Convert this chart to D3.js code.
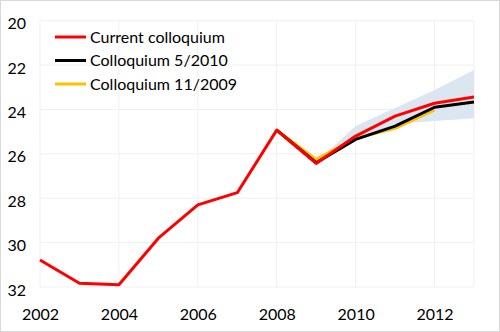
<!DOCTYPE html>
<html>
<head>
<meta charset="utf-8">
<script src="https://cdn.jsdelivr.net/npm/d3@7"></script>
<style>
  body { margin: 0; background: #fff; }
  svg text { font-family: Lato, "Open Sans", sans-serif; fill: #000; }
</style>
</head>
<body>
<svg id="chart" width="500" height="332"></svg>
<script>
// years on the x axis
var years = [2002, 2003, 2004, 2005, 2006, 2007, 2008, 2009, 2010, 2011, 2012, 2013];
var current = [30.78, 31.83, 31.9, 29.8, 28.3, 27.75, 24.93, 26.43, 25.2, 24.3, 23.72, 23.44];
// older forecasts, only the part that sticks out from under the red line
var may2010Years = [2008, 2009, 2010, 2011, 2012, 2013];
var may2010 = [24.93, 26.4, 25.35, 24.75, 23.9, 23.66];
var nov2009Years = [2008, 2009, 2010, 2011, 2012];
var nov2009 = [24.93, 26.25, 25.3, 24.85, 24.02];
// uncertainty band
var bandYears = [2009, 2010, 2011, 2012, 2013];
var bandHigh = [26.38, 24.75, 23.93, 23.12, 22.22];
var bandLow = [26.38, 25.38, 24.66, 24.52, 24.4];
var yTicks = [20, 22, 24, 26, 28, 30, 32];
var xTicks = [2002, 2004, 2006, 2008, 2010, 2012];
var legendNames = ["Current colloquium", "Colloquium 5/2010", "Colloquium 11/2009"];
var legendColors = ["#ff0000", "#000000", "#ffc000"];

var svg = d3.select("#chart");

svg.append("rect")
    .attr("x", 0.5).attr("y", 0.5)
    .attr("width", 499).attr("height", 331)
    .attr("fill", "#fff").attr("stroke", "#d9d9d9");

var x = d3.scaleLinear().domain([2002, 2013]).range([40, 474]);
var y = d3.scaleLinear().domain([20, 32]).range([20.7, 287]);

// grid
var grid = svg.append("g");
grid.selectAll("line.h").data(yTicks).enter().append("line")
    .attr("x1", x(2002)).attr("x2", x(2013))
    .attr("y1", function (d) { return y(d); }).attr("y2", function (d) { return y(d); })
    .attr("stroke", "#f0f0f0").attr("stroke-width", 1);
grid.selectAll("line.v").data(xTicks.concat([2013])).enter().append("line")
    .attr("x1", function (d) { return x(d); }).attr("x2", function (d) { return x(d); })
    .attr("y1", y(20)).attr("y2", y(32))
    .attr("stroke", "#f0f0f0").attr("stroke-width", 1);

// axes, text only
var yAxis = svg.append("g")
    .attr("transform", "translate(26,3)")
    .call(d3.axisLeft(y).tickValues(yTicks).tickSize(0).tickPadding(0));
var xAxis = svg.append("g")
    .attr("transform", "translate(0," + (y(32) + 18) + ")")
    .call(d3.axisBottom(x).tickValues(xTicks).tickFormat(d3.format("d")).tickSize(0).tickPadding(4));
[yAxis, xAxis].forEach(function (a) {
    a.select(".domain").remove();
    a.selectAll("text").style("font-size", "16px").style("font-family", "Lato, 'Open Sans', sans-serif");
});

// band
var area = d3.area()
    .x(function (d, i) { return x(bandYears[i]); })
    .y0(function (d, i) { return y(bandLow[i]); })
    .y1(function (d, i) { return y(bandHigh[i]); });
svg.append("path")
    .datum(bandYears)
    .attr("d", area)
    .attr("fill", "#dce6f0");

function drawLine(xs, ys, color) {
    var line = d3.line()
        .x(function (d, i) { return x(xs[i]); })
        .y(function (d) { return y(d); });
    svg.append("path")
        .datum(ys)
        .attr("d", line)
        .attr("fill", "none")
        .attr("stroke", color)
        .attr("stroke-width", 3)
        .attr("stroke-linejoin", "round");
}
drawLine(nov2009Years, nov2009, legendColors[2]);
drawLine(may2010Years, may2010, legendColors[1]);
drawLine(years, current, legendColors[0]);

// legend
var legend = svg.append("g").selectAll("g")
    .data(legendNames).enter().append("g")
    .attr("transform", function (d, i) { return "translate(55," + (37 + i * 23.5) + ")"; });
legend.append("line")
    .attr("x1", 0).attr("x2", 31)
    .attr("stroke", function (d, i) { return legendColors[i]; })
    .attr("stroke-width", 3);
legend.append("text")
    .attr("x", 35).attr("dy", "0.35em")
    .style("font-size", "16px")
    .text(function (d) { return d; });
</script>
</body>
</html>
